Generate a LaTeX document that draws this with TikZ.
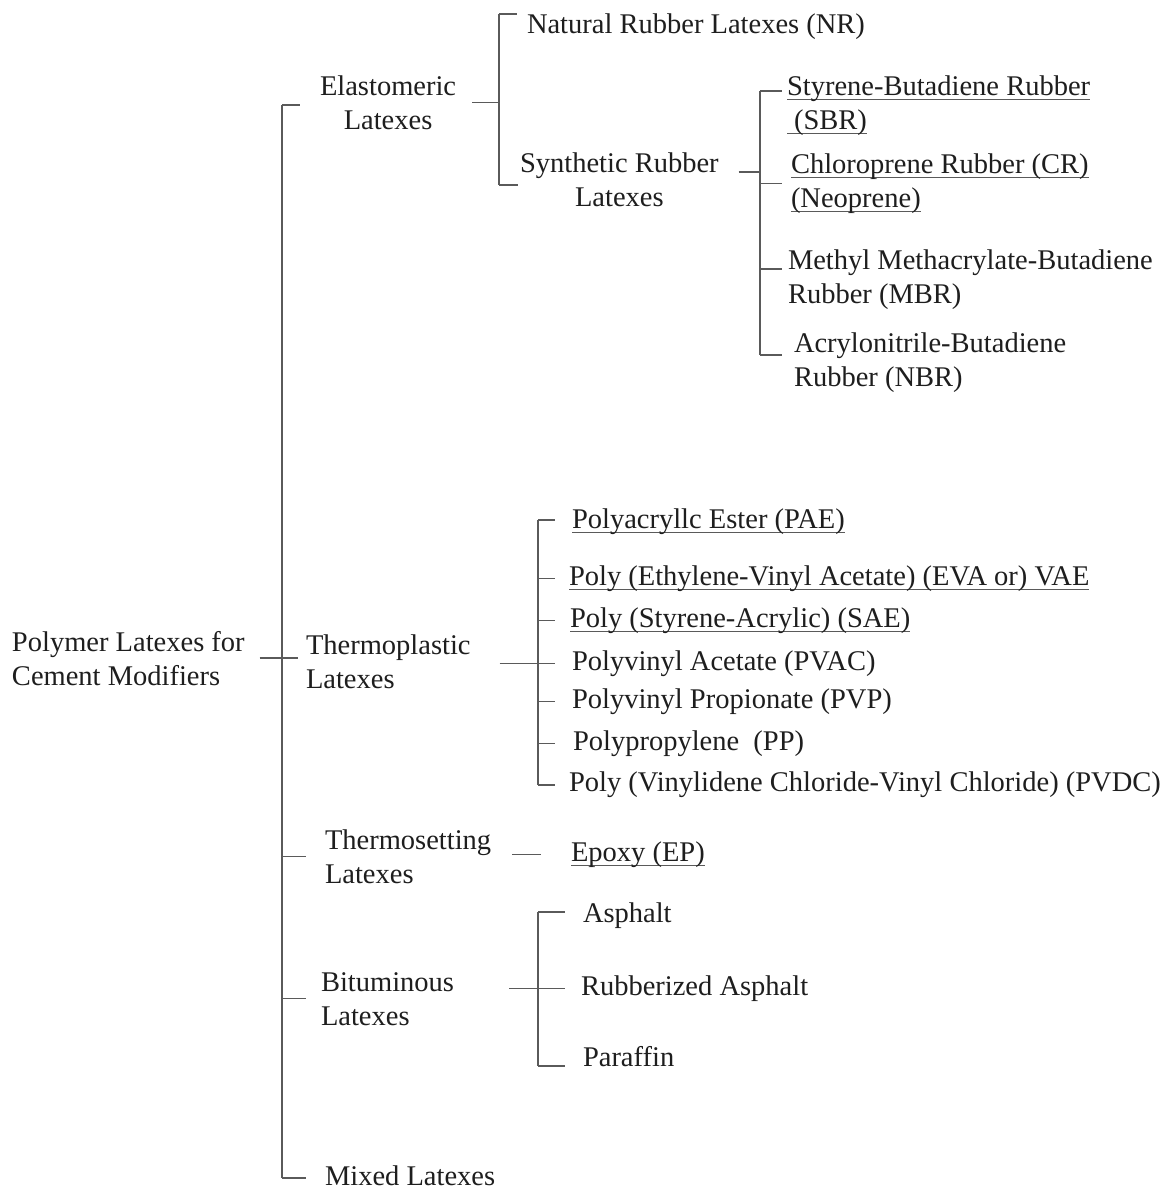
\documentclass[tikz,border=0pt]{standalone}
\usepackage{fontspec}
\setmainfont{Liberation Serif}
\usepackage{tikz}
\definecolor{TreeInk}{HTML}{1E1E1E}
\definecolor{TreeLine}{HTML}{5A5A5A}
\newsavebox{\ulnbox}
\newcommand{\uln}[1]{\sbox{\ulnbox}{#1}\rlap{\color{TreeLine}\rule[-5pt]{\wd\ulnbox}{1.3pt}}\usebox{\ulnbox}}

\begin{document}
\begin{tikzpicture}[x=1pt, y=-1pt,
  head/.style={anchor=base west, inner sep=0pt, outer sep=0pt, align=left, text=TreeInk, font=\fontsize{28.5pt}{34pt}\selectfont},
  chead/.style={head, align=center},
  leaf/.style={head},
  link/.style={draw=TreeLine, line width=1.3pt}
]
\fill[white] (0,0) rectangle (1172,1189);
\useasboundingbox (0,0) rectangle (1172,1189);

\node[head] (root) at (12,685) {Polymer Latexes for\\Cement Modifiers};
\node[chead] (elast) at (320,129) {Elastomeric\\Latexes};
\node[head] (thermo) at (306,688) {Thermoplastic\\Latexes};
\node[head] (tset) at (325,883) {Thermosetting\\Latexes};
\node[head] (bitum) at (321,1025) {Bituminous\\Latexes};
\node[head] (mixed) at (325,1185) {Mixed Latexes};

\node[leaf] (natural) at (527,33) {Natural Rubber Latexes (NR)};
\node[chead] (synth) at (520,206) {Synthetic Rubber\\Latexes};
\node[leaf] (sbr) at (787,129) {\uln{Styrene-Butadiene Rubber}\\\uln{~(SBR)}};
\node[leaf] (cr) at (791,207) {\uln{Chloroprene Rubber (CR)}\\\uln{(Neoprene)}};
\node[leaf] (mbr) at (788,303) {Methyl Methacrylate-Butadiene\\Rubber (MBR)};
\node[leaf] (nbr) at (794,386) {Acrylonitrile-Butadiene\\Rubber (NBR)};

\node[leaf] (pae) at (572,528) {\uln{Polyacryllc Ester (PAE)}};
\node[leaf] (eva) at (569,585) {\uln{Poly (Ethylene-Vinyl Acetate) (EVA or) VAE}};
\node[leaf] (sae) at (570,627) {\uln{Poly (Styrene-Acrylic) (SAE)}};
\node[leaf] (pvac) at (572,670) {Polyvinyl Acetate (PVAC)};
\node[leaf] (pvp) at (572,708) {Polyvinyl Propionate (PVP)};
\node[leaf] (pp) at (573,750) {Polypropylene\ \ (PP)};
\node[leaf] (pvdc) at (569,791) {Poly (Vinylidene Chloride-Vinyl Chloride) (PVDC)};

\node[leaf] (epoxy) at (571,861) {\uln{Epoxy (EP)}};
\node[leaf] (asph) at (583,922) {Asphalt};
\node[leaf] (rasph) at (581,995) {Rubberized Asphalt};
\node[leaf] (paraf) at (583,1066) {Paraffin};

\coordinate (top) at (282,105);
\coordinate (bot) at (282,1178);
\coordinate (eTop) at (499,14);
\coordinate (eBot) at (499,185);
\coordinate (sTop) at (760,91);
\coordinate (sMid) at (760,172);
\coordinate (sMbr) at (760,269);
\coordinate (sBot) at (760,355);
\coordinate (pTop) at (538,520);
\coordinate (pBot) at (538,785);
\coordinate (bTop) at (538,912);
\coordinate (bBot) at (538,1066);

\draw[link] (top) -- (bot);
\draw[link, shorten >=20pt] (top) -- (top -| elast.west);
\draw[link, shorten <=15pt, shorten >=8pt] (root.east) -- (root.east -| thermo.west);
\draw[link, shorten >=19pt] (top |- tset.west) -- (tset.west);
\draw[link, shorten >=15pt] (top |- bitum.west) -- (bitum.west);
\draw[link, shorten >=19pt] (bot) -- (bot -| mixed.west);

\draw[link] (eTop) -- (eBot);
\draw[link, shorten <=16pt] (elast.east) -- (elast.east -| eTop);
\draw[link, shorten >=10pt] (eTop) -- (eTop -| natural.west);
\draw[link, shorten >=2pt] (eBot) -- (eBot -| synth.west);

\draw[link] (sTop) -- (sBot);
\draw[link, shorten <=20pt] (synth.east |- sMid) -- (sMid);
\draw[link, shorten >=5pt] (sTop) -- (sTop -| sbr.west);
\draw[link, shorten >=9pt] (sTop |- cr.west) -- (cr.west);
\draw[link, shorten >=6pt] (sMbr) -- (sMbr -| mbr.west);
\draw[link, shorten >=12pt] (sBot) -- (sBot -| nbr.west);

\draw[link] (pTop) -- (pBot);
\draw[link, shorten <=29pt, shorten >=17pt] (thermo.east |- pvac.west) -- (pvac.west);
\draw[link, shorten >=17pt] (pTop) -- (pTop -| pae.west);
\draw[link, shorten >=14pt] (pTop |- eva.west) -- (eva.west);
\draw[link, shorten >=15pt] (pTop |- sae.west) -- (sae.west);
\draw[link, shorten >=17pt] (pTop |- pvp.west) -- (pvp.west);
\draw[link, shorten >=18pt] (pTop |- pp.west) -- (pp.west);
\draw[link, shorten >=14pt] (pBot) -- (pBot -| pvdc.west);

\draw[link, shorten <=21pt, shorten >=30pt] (tset.east |- epoxy.west) -- (epoxy.west);

\draw[link] (bTop) -- (bBot);
\draw[link, shorten <=55pt, shorten >=16pt] (bitum.east |- rasph.west) -- (rasph.west);
\draw[link, shorten >=18pt] (bTop) -- (bTop -| asph.west);
\draw[link, shorten >=18pt] (bBot) -- (bBot -| paraf.west);
\end{tikzpicture}
\end{document}
